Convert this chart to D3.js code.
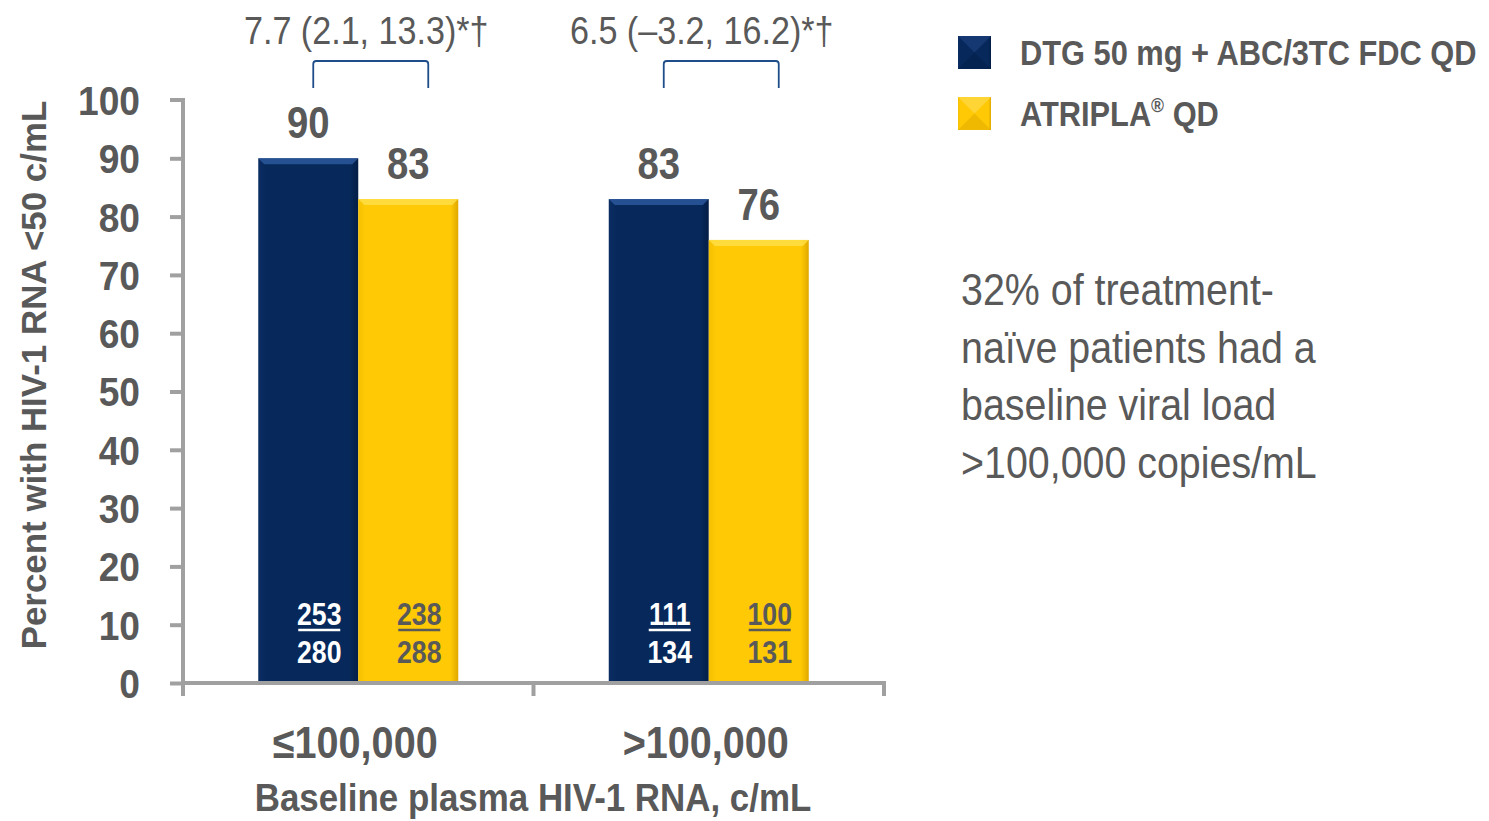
<!DOCTYPE html>
<html><head><meta charset="utf-8">
<script src="https://cdn.jsdelivr.net/npm/d3@7"></script>
<style>body{margin:0;background:#fff}svg{display:block}</style>
</head><body>
<svg id="c" width="1489" height="821"></svg>
<script>
const categories = ["≤100,000", ">100,000"];
const seriesNames = ["DTG 50 mg + ABC/3TC FDC QD", "ATRIPLA® QD"];
const dtgValues = [90, 83];
const atriplaValues = [83, 76];
const dtgNum = [253, 111], dtgDen = [280, 134];
const atrNum = [238, 100], atrDen = [288, 131];
const diffLabels = ["7.7 (2.1, 13.3)*†", "6.5 (–3.2, 16.2)*†"];
const yTicks = [0,10,20,30,40,50,60,70,80,90,100];
const note = ["32% of treatment-", "naïve patients had a", "baseline viral load", ">100,000 copies/mL"];

const FONT = "'Liberation Sans','Arial',sans-serif";
const gray = "#595959";
const svg = d3.select("#c");
const defs = svg.append("defs");
function grad(id, c1, c2, c3){
  const g = defs.append("linearGradient").attr("id", id).attr("x1",0).attr("x2",1).attr("y1",0).attr("y2",0);
  g.append("stop").attr("offset","0").attr("stop-color",c1);
  g.append("stop").attr("offset","0.08").attr("stop-color",c2);
  g.append("stop").attr("offset","0.92").attr("stop-color",c2);
  g.append("stop").attr("offset","1").attr("stop-color",c3);
}
grad("gBlue","#0b2d63","#06285a","#041d45");
grad("gYel","#f5c000","#ffca05","#e0a800");

// condensed text helper (horizontal squeeze to mimic a narrow face)
function T(parent, x, y, str, o){
  const g = parent.append("g").attr("transform",`translate(${x},${y}) scale(${o.sx||0.88},1)`);
  const t = g.append("text").attr("text-anchor",o.anchor||"start").attr("fill",o.fill||gray)
    .style("font-family",FONT).style("font-size",o.size+"px").style("font-weight",o.bold?"bold":"normal");
  if (str !== null) t.text(str);
  return t;
}

const x = d3.scaleBand().domain(categories).range([183, 884]).paddingInner(0).paddingOuter(0);
const y = d3.scaleLinear().domain([0,100]).range([683, 100]);
const barW = 100;

// y axis
const tsx = 0.93;
const yAxis = d3.axisLeft(y).tickValues(yTicks).tickSize(13).tickFormat(d=>d);
const ga = svg.append("g").attr("transform","translate(183,0)").call(yAxis);
ga.select(".domain").attr("stroke","#a0a0a0").attr("stroke-width",4).attr("d","M-13,100H0V683");
ga.selectAll(".tick line").attr("stroke","#a0a0a0").attr("stroke-width",4);
ga.selectAll(".tick text").attr("fill",gray).style("font-family",FONT).style("font-weight","bold")
  .style("font-size","40px").attr("transform",`scale(${tsx},1)`).attr("x",-43/tsx).attr("dy","0.36em");
ga.selectAll(".tick").filter(d=>d===100).select("line").remove();

// x axis baseline with boundary ticks
const xb = svg.append("g");
xb.append("line").attr("x1",181).attr("x2",886).attr("y1",683).attr("y2",683).attr("stroke","#a0a0a0").attr("stroke-width",4);
const bounds = [x.range()[0]].concat(categories.map(c=>x(c)+x.bandwidth()));
xb.selectAll(".bt").data(bounds).join("line").attr("x1",d=>d).attr("x2",d=>d).attr("y1",683).attr("y2",696)
  .attr("stroke","#a0a0a0").attr("stroke-width",4);

categories.forEach(c=>T(svg, x(c)+x.bandwidth()/2 - 3, 758, c, {size:44, bold:true, anchor:"middle", sx:0.9}));
T(svg, 533, 811, "Baseline plasma HIV-1 RNA, c/mL", {size:39, bold:true, anchor:"middle", sx:0.895});
svg.append("text").attr("transform","translate(46,375) rotate(-90) scale(0.97,1)").attr("text-anchor","middle").attr("fill",gray)
  .style("font-family",FONT).style("font-weight","bold").style("font-size","36px").text("Percent with HIV-1 RNA <50 c/mL");

// bars
const bars = [];
categories.forEach((c,i)=>{
  const cx = x(c)+x.bandwidth()/2;
  bars.push({x0:cx-barW, v:dtgValues[i], fill:"url(#gBlue)", top:"#2d5aa0", num:dtgNum[i], den:dtgDen[i], tc:"#fff"});
  bars.push({x0:cx, v:atriplaValues[i], fill:"url(#gYel)", top:"#ffe04a", num:atrNum[i], den:atrDen[i], tc:gray});
});
bars.forEach(d=>{
  const g = svg.append("g");
  g.append("rect").attr("x",d.x0).attr("y",y(d.v)).attr("width",barW).attr("height",y(0)-y(d.v)-2).attr("fill",d.fill);
  g.append("path").attr("d",`M${d.x0},${y(d.v)}h${barW}l-6,6h${-(barW-12)}z`).attr("fill",d.top).attr("opacity",0.8);
  T(g, d.x0+barW/2, y(d.v)-20, d.v, {size:44, bold:true, anchor:"middle", sx:0.87});
  T(g, d.x0+barW/2+11, 625, d.num, {size:31, bold:true, anchor:"middle", sx:0.86, fill:d.tc});
  g.append("line").attr("x1",d.x0+barW/2-10).attr("x2",d.x0+barW/2+32).attr("y1",630).attr("y2",630)
    .attr("stroke",d.tc).attr("stroke-width",2.5);
  T(g, d.x0+barW/2+11, 663, d.den, {size:31, bold:true, anchor:"middle", sx:0.86, fill:d.tc});
});

// brackets
categories.forEach((c,i)=>{
  const cx = x(c)+x.bandwidth()/2;
  const x1 = cx-45, x2 = cx+70;
  svg.append("path").attr("d",`M${x1},88V64Q${x1},61 ${x1+3},61H${x2-3}Q${x2},61 ${x2},64V88`)
    .attr("fill","none").attr("stroke","#1f4d8a").attr("stroke-width",1.8);
  T(svg, cx + (i===0 ? 8 : -7), 44, diffLabels[i], {size:39, anchor:"middle", sx:0.875});
});

// legend
const legFills = ["url(#gBlue)","url(#gYel)"];
const legTops = [["#1c3f7e","#041d45"],["#ffd84a","#e0a800"]];
seriesNames.forEach((s,i)=>{
  const ly = 36 + i*61, lx = 958, sz = 33;
  svg.append("rect").attr("x",lx).attr("y",ly).attr("width",sz).attr("height",sz).attr("fill",legFills[i]);
  svg.append("path").attr("d",`M${lx},${ly}H${lx+sz}L${lx+sz/2},${ly+sz/2}z`).attr("fill",legTops[i][0]).attr("opacity",0.7);
  svg.append("path").attr("d",`M${lx},${ly+sz}H${lx+sz}L${lx+sz/2},${ly+sz/2}z`).attr("fill",legTops[i][1]).attr("opacity",0.5);
  const t = T(svg, 1020, ly+29, null, {size:35, bold:true, sx:0.88});
  if (s.includes("®")) {
    const parts = s.split("®");
    t.append("tspan").text(parts[0]);
    t.append("tspan").attr("dy",-14).style("font-size","20px").text("®");
    t.append("tspan").attr("dy",14).text(parts[1]);
  } else t.text(s);
});

// note
note.forEach((d,i)=>T(svg, 961, 305+i*57.5, d, {size:44, sx:0.895}));
</script>
</body></html>
